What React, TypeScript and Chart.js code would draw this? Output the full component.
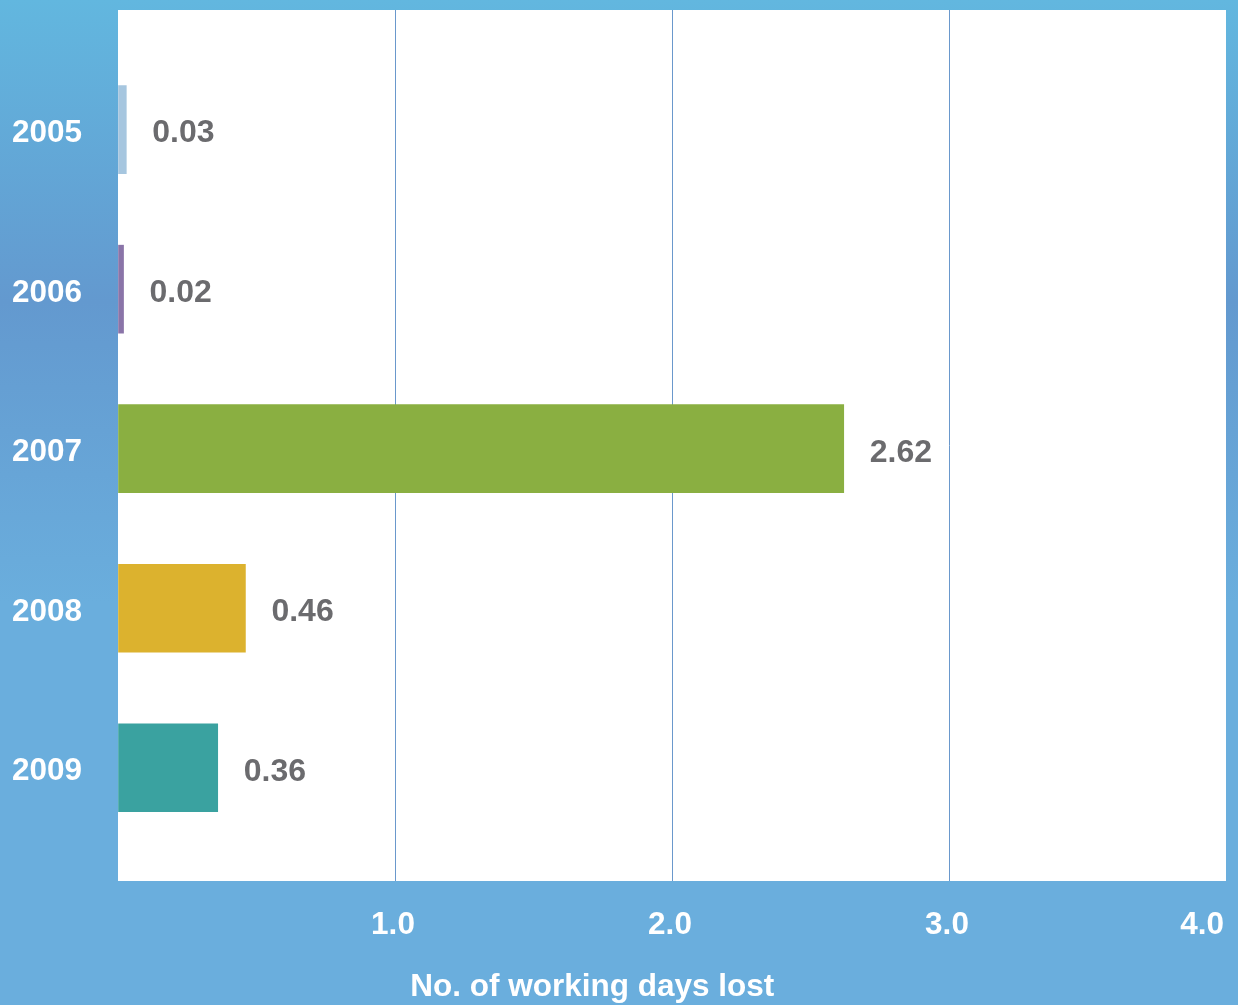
import React, { useEffect, useRef } from "react";
import { Chart, registerables } from "chart.js";

Chart.register(...registerables);

const years = ["2005", "2006", "2007", "2008", "2009"];
const daysLost = [0.03, 0.02, 2.62, 0.46, 0.36];
const barColors = ["#a6c6df", "#8a74a8", "#8aaf41", "#dcb22e", "#3aa2a0"];
const xTickValues = [1, 2, 3, 4];
const xTitle = "No. of working days lost";

const FONT = '"Liberation Sans", Arial, Helvetica, sans-serif';

const backgroundPlugin = {
  id: "bgPlugin",
  beforeDraw(chart: any) {
    const { ctx, width, height, chartArea } = chart;
    ctx.save();
    const g = ctx.createLinearGradient(0, 0, 0, height);
    g.addColorStop(0, "#62b7df");
    g.addColorStop(0.3, "#6399cf");
    g.addColorStop(0.6, "#6aaedd");
    g.addColorStop(1, "#6aaedd");
    ctx.fillStyle = g;
    ctx.fillRect(0, 0, width, height);
    ctx.fillStyle = "#ffffff";
    ctx.fillRect(chartArea.left, chartArea.top, chartArea.right - chartArea.left, chartArea.bottom - chartArea.top);
    ctx.restore();
  },
};

const labelsPlugin = {
  id: "labelsPlugin",
  afterDatasetsDraw(chart: any) {
    const { ctx, chartArea, width } = chart;
    const meta = chart.getDatasetMeta(0);
    ctx.save();
    ctx.font = `bold 32px ${FONT}`;
    ctx.textBaseline = "middle";
    ctx.textAlign = "left";
    ctx.fillStyle = "#6b6b6e";
    meta.data.forEach((el: any, i: number) => {
      ctx.fillText(daysLost[i].toFixed(2), el.x + 26, el.y + 4);
    });
    // x tick labels
    ctx.font = `bold 31.5px ${FONT}`;
    const xs = chart.scales.x;
    ctx.fillStyle = "#ffffff";
    ctx.textAlign = "center";
    xTickValues.forEach((v) => {
      const t = v.toFixed(1);
      const w = ctx.measureText(t).width;
      let cx = xs.getPixelForValue(v) - 2;
      cx = Math.min(cx, width - 14 - w / 2);
      ctx.fillText(t, cx, chartArea.bottom + 44);
    });
    // axis title
    ctx.fillText(xTitle, chartArea.left + (chartArea.right - chartArea.left) * 0.428, chartArea.bottom + 106);
    ctx.restore();
  },
};

export default function App() {
  const ref = useRef<HTMLCanvasElement | null>(null);

  useEffect(() => {
    if (!ref.current) return;
    const chart = new Chart(ref.current, {
      type: "bar",
      data: {
        datasets: [
          {
            data: years.map((_, i) => ({ x: daysLost[i], y: i })) as any,
            backgroundColor: barColors,
            borderWidth: 0,
            barThickness: 88,
          },
        ],
      },
      options: {
        indexAxis: "y",
        animation: false,
        responsive: false,
        devicePixelRatio: 1,
        layout: { padding: { left: 0, right: 12, top: 10, bottom: 0 } },
        plugins: { legend: { display: false }, tooltip: { enabled: false } },
        scales: {
          x: {
            type: "linear",
            min: 0,
            max: 4,
            ticks: { display: false, stepSize: 1 },
            grid: {
              drawTicks: false,
              lineWidth: 1,
              color: (c: any) =>
                c.tick && (c.tick.value === 0 || c.tick.value === 4) ? "rgba(0,0,0,0)" : "#6a98cc",
            },
            border: { display: false },
            afterFit: (s: any) => {
              s.height = 124;
              s.paddingLeft = 0;
              s.paddingRight = 0;
            },
          },
          y: {
            type: "linear",
            reverse: true,
            offset: false,
            min: -0.75,
            max: 4.71,
            afterBuildTicks: (s: any) => {
              s.ticks = years.map((_, i) => ({ value: i }));
            },
            ticks: {
              padding: 36,
              labelOffset: 4,
              color: "#ffffff",
              font: { family: FONT, size: 31.5, weight: "bold" },
              callback: (v: any) => years[Math.round(Number(v))] ?? "",
            },
            grid: { display: false, drawTicks: false, offset: false },
            border: { display: false },
            afterFit: (s: any) => {
              s.width = 118;
              s.paddingTop = 0;
              s.paddingBottom = 0;
            },
          },
        },
      },
      plugins: [backgroundPlugin, labelsPlugin],
    });
    return () => chart.destroy();
  }, []);

  return (
    <div style={{ position: "absolute", left: 0, top: 0, width: 1238, height: 1005 }}>
      <canvas ref={ref} width={1238} height={1005} style={{ display: "block", width: 1238, height: 1005 }} />
    </div>
  );
}
